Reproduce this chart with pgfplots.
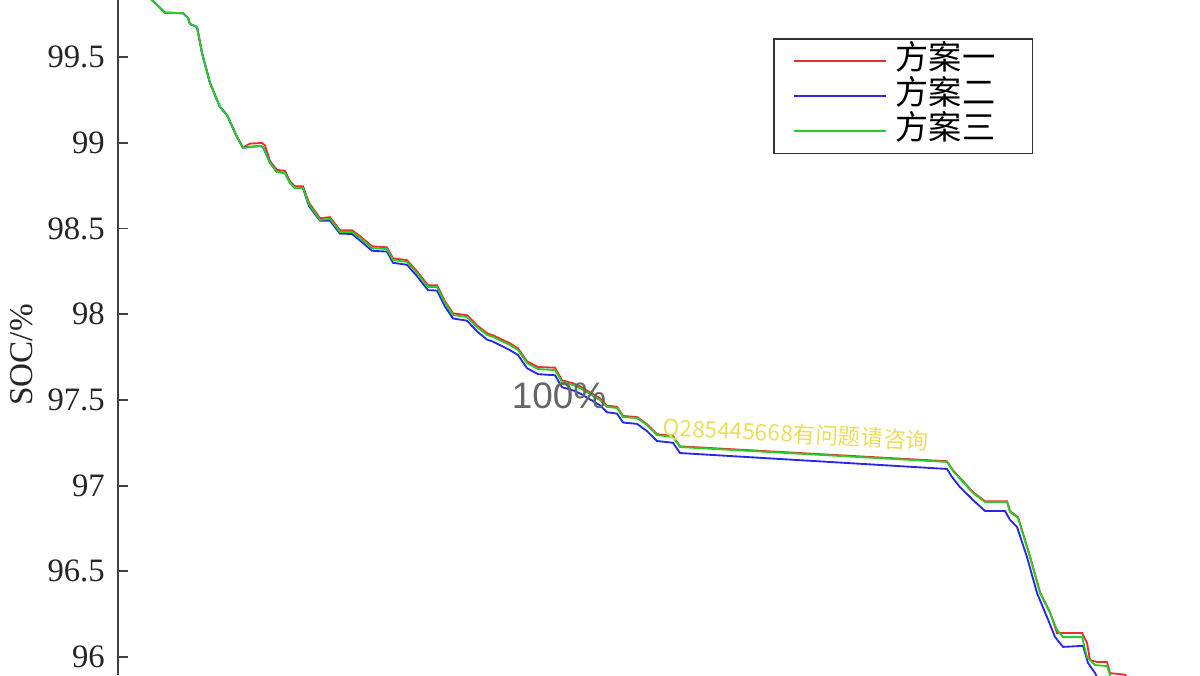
\documentclass[border=0pt]{standalone}
\usepackage{pgfplots}
\pgfplotsset{compat=1.18}
\usepackage{fontspec}
\setmainfont{Liberation Serif}
\newfontfamily\cjk{Noto Sans CJK SC}
\newfontfamily\wmfont{Liberation Sans}

\definecolor{cA}{RGB}{235,45,45}
\definecolor{cB}{RGB}{40,40,230}
\definecolor{cC}{RGB}{40,205,40}
\definecolor{wmyellow}{RGB}{235,222,95}

\begin{document}
\begin{tikzpicture}
\useasboundingbox (0,0) rectangle (16cm,9cm);
\begin{axis}[
    at={(1.5733cm,0cm)}, anchor=south west,
    scale only axis,
    width=14.4267cm, height=9cm,
    xmin=118, xmax=1200,
    ymin=95.895, ymax=99.833,
    axis x line=none,
    axis y line*=left,
    axis line style={black!75, line width=0.7pt, -},
    ytick={96,96.5,97,97.5,98,98.5,99,99.5},
    tick align=inside,
    major tick length=3.8pt,
    tick style={black!75, line width=0.7pt},
    minor tick num=0,
    /pgf/number format/assume math mode=true,
    yticklabel style={font=\fontsize{12.4}{14}\selectfont, text=black!85, xshift=-1.5pt},
    ylabel={SOC/\%},
    ylabel style={at={(axis description cs:-0.0887,0.474)}, anchor=center, rotate=0,
        font=\fontsize{12.6}{14}\selectfont, text=black!85},
    legend style={at={(axis description cs:0.6054,0.9437)}, anchor=north west,
        draw=black!80, line width=0.6pt, fill=white,
        inner xsep=7.2pt, inner ysep=1.8pt,
        nodes={inner sep=0pt, text height=9.7pt, text depth=3.6pt},
        row sep=0pt, column sep=3.4pt,
        font=\cjk\fontsize{12.6}{15}\selectfont},
    legend cell align=left,
    legend image code/.code={\draw[#1, line width=0.8pt] (0pt,0pt) -- (34.8pt,0pt);},
    every axis plot/.append style={line width=0.7pt},
]
% 方案一
\addplot[cA] coordinates {
(140,99.897) (152,99.833) (165,99.759) (183,99.756) (188,99.728) (190,99.693)
(197,99.676) (202,99.524) (210,99.349) (220,99.209) (227,99.162) (237,99.034)
(243,98.972) (250,98.995) (262,98.999) (265,98.985) (270,98.892) (277,98.842)
(285,98.836) (290,98.775) (295,98.746) (303,98.746) (309,98.650) (320,98.560)
(330,98.566) (340,98.490) (352,98.490) (360,98.455) (372,98.396) (387,98.390)
(393,98.326) (407,98.315) (417,98.250) (428,98.169) (437,98.169) (445,98.075)
(453,98.005) (467,97.994) (477,97.935) (487,97.889) (493,97.877) (510,97.830)
(518,97.801) (527,97.725) (538,97.692) (555,97.688) (562,97.614) (573,97.597)
(580,97.579) (600,97.509) (607,97.466) (617,97.460) (623,97.406) (637,97.400)
(647,97.358) (657,97.300) (673,97.289) (680,97.229) (947,97.142) (953,97.089)
(963,97.026) (973,96.962) (985,96.909) (1007,96.909) (1010,96.851) (1018,96.816)
(1030,96.588) (1040,96.378) (1050,96.262) (1057,96.140) (1070,96.140) (1082,96.140)
(1087,96.082) (1090,95.982) (1097,95.971) (1107,95.971) (1110,95.906) (1125,95.897)
(1130,95.850)
};
\addlegendentry{方案一\rule{7pt}{0pt}}
% 方案二
\addplot[cB] coordinates {
(140,99.897) (152,99.833) (165,99.759) (183,99.756) (188,99.728) (190,99.693)
(197,99.676) (202,99.524) (210,99.349) (220,99.209) (227,99.162) (237,99.034)
(243,98.970) (250,98.976) (260,98.981) (263,98.976) (270,98.882) (277,98.830)
(285,98.824) (290,98.765) (295,98.736) (303,98.736) (309,98.630) (320,98.545)
(330,98.545) (340,98.470) (352,98.468) (360,98.430) (372,98.370) (387,98.365)
(393,98.300) (407,98.288) (417,98.222) (428,98.140) (437,98.138) (445,98.045)
(453,97.975) (467,97.962) (477,97.900) (487,97.852) (493,97.840) (510,97.790)
(518,97.762) (527,97.685) (538,97.650) (555,97.644) (562,97.574) (573,97.556)
(580,97.538) (600,97.468) (607,97.428) (617,97.420) (623,97.368) (637,97.360)
(647,97.318) (657,97.260) (673,97.250) (680,97.190) (947,97.097) (952,97.050)
(960,96.991) (973,96.916) (985,96.852) (1005,96.852) (1010,96.800) (1017,96.759)
(1027,96.583) (1037,96.373) (1047,96.233) (1055,96.117) (1063,96.059) (1083,96.065)
(1088,95.965) (1095,95.907) (1100,95.850)
};
\addlegendentry{方案二\rule{7pt}{0pt}}
% 方案三
\addplot[cC] coordinates {
(140,99.897) (152,99.833) (165,99.759) (183,99.756) (188,99.728) (190,99.693)
(197,99.676) (202,99.524) (210,99.349) (220,99.209) (227,99.162) (237,99.034)
(243,98.970) (250,98.976) (260,98.981) (263,98.976) (270,98.882) (277,98.830)
(285,98.824) (290,98.765) (295,98.736) (303,98.736) (309,98.640) (320,98.550)
(330,98.556) (340,98.480) (352,98.480) (360,98.445) (372,98.386) (387,98.380)
(393,98.316) (407,98.305) (417,98.240) (428,98.159) (437,98.159) (445,98.065)
(453,97.995) (467,97.984) (477,97.925) (487,97.879) (493,97.867) (510,97.820)
(518,97.791) (527,97.715) (538,97.680) (555,97.674) (562,97.604) (573,97.587)
(580,97.569) (600,97.499) (607,97.459) (617,97.453) (623,97.400) (637,97.394)
(647,97.353) (657,97.295) (673,97.284) (680,97.225) (947,97.138) (953,97.085)
(963,97.021) (973,96.957) (985,96.904) (1007,96.904) (1010,96.846) (1018,96.811)
(1030,96.583) (1040,96.373) (1050,96.257) (1057,96.158) (1063,96.117) (1082,96.117)
(1087,96.000) (1095,95.953) (1107,95.947) (1110,95.895) (1115,95.750)
};
\addlegendentry{方案三\rule{7pt}{0pt}}
\end{axis}
% watermark texts
\node[text=black!60, font=\wmfont\fontsize{14}{16}\selectfont] at (7.4533cm,3.72cm) {100\%};
\node[text=wmyellow, font=\cjk\fontsize{8.6}{10}\selectfont, rotate=-3, inner sep=0pt]
    at (10.6133cm,3.2cm) {Q285445668有问题请咨询};
\end{tikzpicture}
\end{document}
